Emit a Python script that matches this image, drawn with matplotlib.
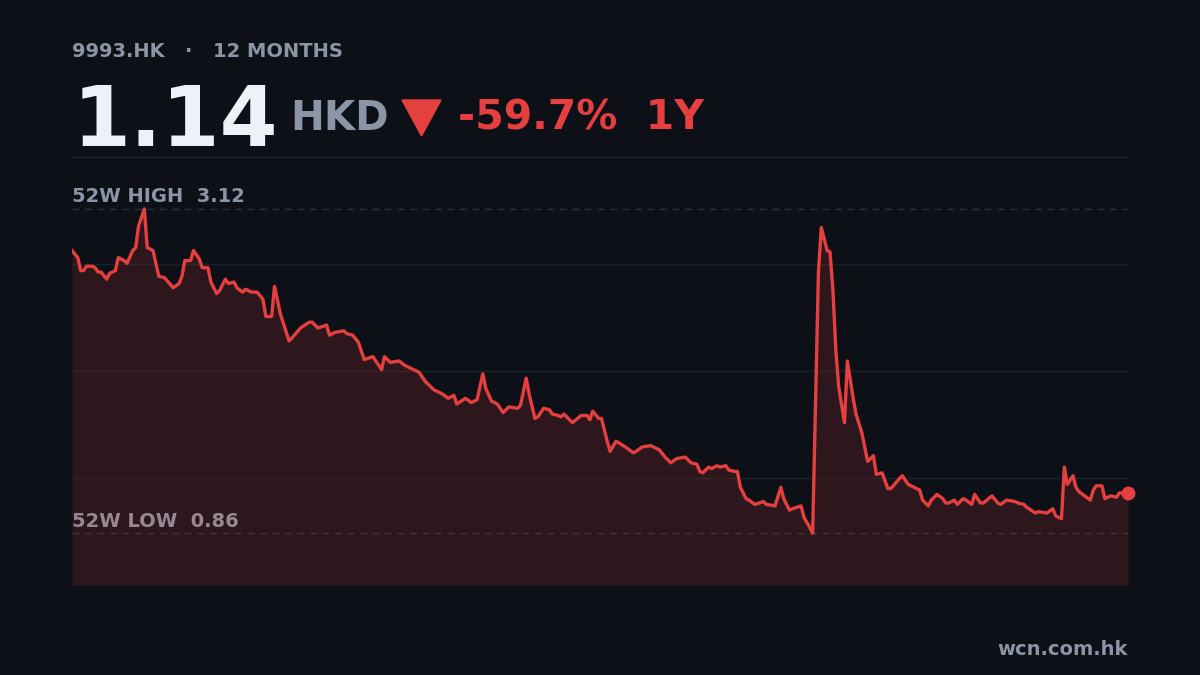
import numpy as np
import matplotlib
matplotlib.use('Agg')
import matplotlib.pyplot as plt
from matplotlib.patches import Polygon

# --- data (calendar day offset, close price HKD) ---
ticker = '9993.HK'
period = '12 MONTHS'
currency = 'HKD'
last_price = 1.14
change_pct = -59.7
high_52w = 3.12
low_52w = 0.86

days = [0, 2, 3, 4, 5, 7, 8, 9, 10, 12, 13, 15, 16, 18, 19, 21, 22, 23, 25, 26,
        28, 29, 30, 32, 35, 37, 38, 39, 41, 42, 44, 45, 47, 48, 50, 51, 53, 54, 56, 57,
        59, 60, 62, 64, 66, 67, 69, 70, 72, 75, 76, 79, 82, 83, 85, 88, 89, 91, 94, 95,
        97, 99, 101, 104, 105, 107, 108, 110, 113, 115, 117, 120, 122, 125, 128, 130, 132, 133, 136, 138,
        140, 142, 143, 145, 147, 149, 151, 154, 155, 157, 158, 160, 161, 163, 165, 166, 168, 169, 170, 173,
        176, 178, 179, 180, 182, 183, 185, 186, 188, 189, 192, 194, 195, 197, 200, 203, 205, 207, 209, 212,
        214, 216, 217, 218, 220, 221, 223, 224, 226, 227, 229, 230, 231, 233, 234, 236, 239, 240, 243, 245,
        246, 248, 249, 252, 253, 255, 256, 258, 259, 261, 262, 263, 264, 265, 267, 268, 270, 271, 273, 275,
        277, 278, 280, 282, 283, 286, 287, 289, 290, 293, 294, 296, 297, 299, 301, 302, 303, 305, 306, 308,
        309, 311, 312, 314, 315, 318, 320, 321, 323, 326, 327, 329, 330, 333, 334, 337, 339, 340, 342, 343,
        344, 346, 347, 348, 350, 352, 353, 354, 356, 357, 359, 361, 362, 365]
price = [2.83, 2.78, 2.69, 2.69, 2.72, 2.72, 2.71, 2.68, 2.68, 2.63, 2.67, 2.69, 2.78, 2.76, 2.74, 2.83, 2.85, 3.00, 3.12, 2.85,
         2.83, 2.74, 2.65, 2.64, 2.57, 2.60, 2.65, 2.76, 2.76, 2.83, 2.77, 2.71, 2.71, 2.61, 2.53, 2.55, 2.63, 2.60, 2.61, 2.57,
         2.54, 2.56, 2.54, 2.54, 2.49, 2.37, 2.37, 2.58, 2.39, 2.20, 2.22, 2.29, 2.33, 2.33, 2.29, 2.31, 2.24, 2.26, 2.27, 2.25,
         2.24, 2.19, 2.07, 2.09, 2.06, 2.00, 2.09, 2.05, 2.06, 2.03, 2.01, 1.98, 1.92, 1.86, 1.83, 1.80, 1.82, 1.76, 1.80, 1.77,
         1.79, 1.97, 1.87, 1.78, 1.76, 1.70, 1.74, 1.73, 1.75, 1.94, 1.83, 1.66, 1.67, 1.73, 1.72, 1.69, 1.68, 1.67, 1.69, 1.63,
         1.68, 1.68, 1.65, 1.71, 1.66, 1.66, 1.50, 1.43, 1.50, 1.49, 1.45, 1.42, 1.43, 1.46, 1.47, 1.44, 1.39, 1.35, 1.38, 1.39,
         1.35, 1.34, 1.29, 1.28, 1.32, 1.31, 1.33, 1.32, 1.33, 1.30, 1.29, 1.29, 1.18, 1.10, 1.09, 1.06, 1.08, 1.06, 1.05, 1.18,
         1.10, 1.02, 1.03, 1.05, 0.97, 0.90, 0.86, 2.68, 2.99, 2.83, 2.82, 2.56, 2.14, 1.88, 1.63, 2.06, 1.80, 1.69, 1.56, 1.36,
         1.40, 1.27, 1.28, 1.17, 1.17, 1.24, 1.26, 1.20, 1.19, 1.16, 1.09, 1.05, 1.09, 1.13, 1.10, 1.07, 1.07, 1.09, 1.06, 1.10,
         1.09, 1.06, 1.13, 1.07, 1.07, 1.12, 1.07, 1.06, 1.09, 1.08, 1.07, 1.06, 1.04, 1.00, 1.01, 1.00, 1.03, 0.98, 0.96, 1.32,
         1.20, 1.26, 1.18, 1.15, 1.12, 1.09, 1.16, 1.19, 1.19, 1.10, 1.12, 1.11, 1.14, 1.14]

BG = '#0d1017'
RED = '#e5403f'
GRAY = '#8b95a5'
W, H = 1200, 675

def px(x, y):
	# pixel position -> figure fraction
	return x / W, 1 - y / H

plt.rcParams['font.family'] = ['DejaVu Sans']
fig = plt.figure(figsize=(12, 6.75), dpi=100, facecolor=BG)

# chart area
ax = fig.add_axes([72 / W, 90 / H, 1056 / W, 428 / H])
ax.set_facecolor(BG)
pad = (high_52w - low_52w) * 0.16
ax.set_xlim(days[0], days[-1])
ax.set_ylim(low_52w - pad, high_52w + pad)
for s in ax.spines.values():
	s.set_visible(False)
ax.set_xticks([]); ax.set_yticks([])

for f in [0.25, 0.5, 0.75]:
	ax.axhline(ax.get_ylim()[0] + f * (ax.get_ylim()[1] - ax.get_ylim()[0]), color='#1c2029', lw=1.0, zorder=1)
for lvl in [high_52w, low_52w]:
	ax.axhline(lvl, color='#2a303c', lw=1.0, ls=(0, (5, 4)), zorder=1)

ax.text(0, high_52w + 0.045, '52W HIGH  %.2f' % high_52w, color=GRAY, fontsize=14, fontweight='bold',
		ha='left', va='baseline', transform=ax.get_yaxis_transform(), zorder=2)
ax.text(0, low_52w + 0.045, '52W LOW  %.2f' % low_52w, color=GRAY, fontsize=14, fontweight='bold',
		ha='left', va='baseline', transform=ax.get_yaxis_transform(), zorder=2)

ax.fill_between(days, price, ax.get_ylim()[0], color=RED, alpha=0.15, lw=0, zorder=3)
ax.plot(days, price, color=RED, lw=2.4, solid_joinstyle='round', zorder=4)
ax.plot(days[-1], price[-1], 'o', color=RED, ms=9, zorder=5, clip_on=False)

# separator line above chart
fig.add_artist(plt.Line2D([72 / W, 1128 / W], [1 - 157 / H] * 2, color='#1f2430', lw=1.0))

# header
fig.text(*px(72, 57), ticker, color=GRAY, fontsize=14, fontweight='bold', va='baseline')
fig.text(*px(185, 57), '·', color=GRAY, fontsize=14, fontweight='bold', va='baseline')
fig.text(*px(213, 57), period, color=GRAY, fontsize=14, fontweight='bold', va='baseline')

fig.text(*px(73, 146), '%.2f' % last_price, color='#eef1f7', fontsize=60, fontweight='bold', va='baseline')
fig.text(*px(290, 130), currency, color=GRAY, fontsize=29, fontweight='bold', va='baseline')
tri = Polygon([px(402, 100), px(441, 100), px(421.5, 136)], closed=True, color=RED,
			  transform=fig.transFigure)
fig.add_artist(tri)
fig.text(*px(458, 130), '%.1f%%  1Y' % change_pct, color=RED, fontsize=29.5, fontweight='bold', va='baseline')

fig.text(*px(1128, 655), 'wcn.com.hk', color=GRAY, fontsize=14, fontweight='bold', ha='right', va='baseline')

fig.savefig('out.png', dpi=100, facecolor=BG)
